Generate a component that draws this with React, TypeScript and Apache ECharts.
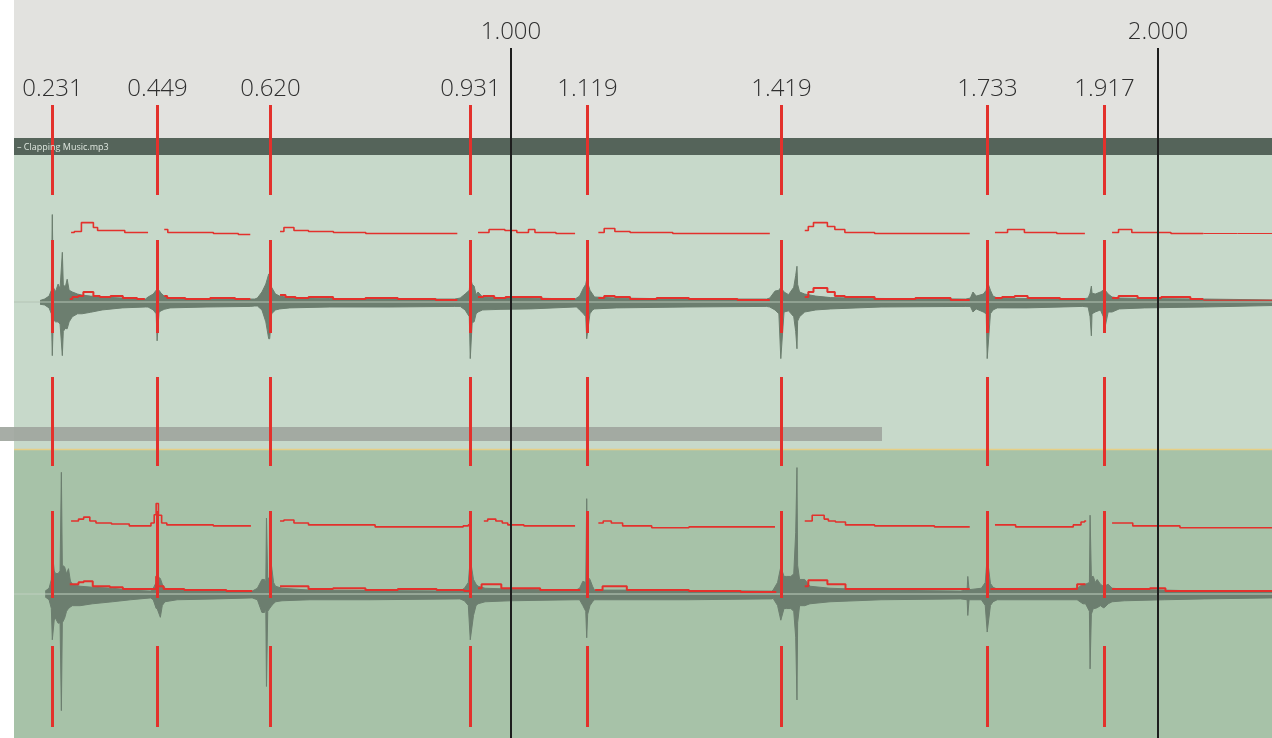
import { useEffect, useRef } from "react";
import * as echarts from "echarts";

// ---------- data ----------
const timeMin = 0.2318;
const timeMax = 2.1762;

const onsetTimes = [0.291, 0.453, 0.627, 0.937, 1.117, 1.417, 1.736, 1.917];
const onsetLabels = ["0.231", "0.449", "0.620", "0.931", "1.119", "1.419", "1.733", "1.917"];
const secondTicks = [1, 2];
const trackTitle = "– Clapping Music.mp3";

// waveform bursts per onset: [offset from onset (s), positive peak %, negative peak %]
const track1Bursts: number[][][] = [
  [[-0.019, 1, -1.5], [-0.012, 2, -2], [-0.005, 4, -4], [-0.0015, 8, -8], [0, 59.5, -36.5], [0.0015, 10, -12], [0.005, 7, -13.5], [0.009, 12.2, -13.5], [0.012, 9, -15], [0.0155, 33.8, -36.5], [0.017, 12, -20], [0.02, 10, -18], [0.023, 15.5, -18.2], [0.026, 8, -13.5], [0.031, 6.8, -10], [0.039, 5.4, -8], [0.046, 4.7, -8], [0.059, 4, -7], [0.077, 3.4, -5.4], [0.108, 2.7, -4], [0.144, 2, -3.4]],
  [[-0.014, 3.4, -3.4], [-0.006, 5.4, -5.4], [-0.0015, 8, -8], [0, 8.8, -26.4], [0.003, 8, -7], [0.006, 6, -6], [0.011, 4, -5], [0.02, 2.7, -4], [0.077, 2, -3.4], [0.144, 2, -3]],
  [[-0.023, 2, -2.7], [-0.019, 2.7, -2.7], [-0.012, 6.8, -5.4], [-0.006, 12.2, -13.5], [-0.0015, 19, -25], [0, 19, -25], [0.003, 10, -8], [0.009, 5.4, -5.4], [0.0155, 4, -4.7], [0.031, 3, -4], [0.093, 2.4, -3.4], [0.186, 2, -3.4], [0.286, 2, -3]],
  [[-0.0155, 2.7, -3], [-0.008, 5.4, -5.4], [-0.0015, 8, -10], [0, 16.9, -38.5], [0.003, 12, -14], [0.006, 10.8, -13.5], [0.009, 5, -8], [0.012, 6.8, -6.8], [0.019, 3.4, -5.4], [0.046, 3, -5], [0.093, 2.7, -4.7], [0.162, 2, -3.4]],
  [[-0.0155, 2.7, -3.4], [-0.011, 4, -5.4], [-0.005, 9.5, -8], [-0.0015, 12, -10], [0, 15.5, -25], [0.005, 8, -8], [0.009, 5.4, -5.4], [0.012, 3.4, -4.7], [0.046, 2.7, -4], [0.155, 2, -3.4], [0.278, 2, -3]],
  [[-0.017, 2.7, -3.4], [-0.009, 7.4, -5.4], [-0.003, 8, -8], [0, 10, -38.5], [0.005, 6.8, -6.8], [0.012, 5, -6], [0.02, 10, -10], [0.023, 18, -20], [0.025, 24.3, -31.8], [0.026, 12, -13], [0.029, 6.8, -10], [0.037, 5.4, -6.8], [0.054, 4, -5.4], [0.077, 3, -4.7], [0.155, 2.4, -3.4], [0.286, 2, -3]],
  [[-0.026, 2.7, -3], [-0.022, 6.8, -6.8], [-0.017, 4, -4.7], [-0.006, 5.4, -6.8], [-0.0015, 8, -8], [0, 14.2, -38.5], [0.005, 8, -8], [0.009, 4, -5.4], [0.0155, 2.7, -4], [0.062, 2.4, -4], [0.147, 2, -3]],
  [[-0.025, 2.7, -3.4], [-0.022, 6, -10], [-0.02, 10.8, -23], [-0.019, 6, -8], [-0.014, 5.4, -6.8], [-0.006, 6.8, -5.4], [-0.0015, 8, -10], [0, 8.8, -19.6], [0.006, 5.4, -6.8], [0.012, 3.4, -6.8], [0.023, 2.7, -4.7], [0.062, 2.4, -4], [0.155, 2, -3.4], [0.26, 1.4, -2.4]],
];

const track2Bursts: number[][][] = [
  [[-0.011, 2, -2], [-0.005, 4, -4], [-0.0015, 10, -10], [0, 29, -31.8], [0.003, 16, -18], [0.005, 14.2, -16.9], [0.009, 14.2, -20.3], [0.012, 16, -20], [0.014, 84.5, -81], [0.0155, 20, -20], [0.019, 18.9, -16.9], [0.022, 14, -12], [0.025, 17.6, -10.1], [0.028, 9, -9], [0.031, 6.8, -8.1], [0.043, 5.4, -8.1], [0.062, 4.7, -6.8], [0.093, 4, -5.4], [0.121, 2.7, -4], [0.152, 2, -2.7]],
  [[-0.006, 4, -4], [-0.0015, 8, -10], [0, 12.2, -10.1], [0.005, 10.8, -16.2], [0.008, 6.8, -8], [0.012, 4, -5.4], [0.031, 2.7, -4], [0.093, 2, -3.4], [0.147, 2, -2.7]],
  [[-0.019, 4, -4], [-0.012, 10.1, -12.8], [-0.008, 10.1, -12.8], [-0.006, 8, -10], [-0.005, 52.7, -64.2], [-0.003, 10, -12], [0, 12, -10], [0.003, 18.9, -8.1], [0.006, 8, -6.8], [0.009, 5.4, -5.4], [0.019, 4, -4.7], [0.062, 2.7, -4], [0.155, 2.4, -4], [0.294, 2, -3.4]],
  [[-0.009, 4, -4.7], [-0.003, 8, -8], [0, 24.3, -31.8], [0.005, 10.1, -14.9], [0.009, 6.8, -8], [0.012, 5.4, -6.8], [0.023, 4, -5.4], [0.062, 3.4, -4.7], [0.162, 2.4, -4]],
  [[-0.011, 4, -4], [-0.006, 8.8, -8], [-0.0015, 8, -12], [0, 66.2, -30.4], [0.0015, 12, -14], [0.005, 10.1, -8.1], [0.009, 5.4, -5.4], [0.012, 2.7, -4], [0.062, 2.7, -4], [0.155, 2.4, -4], [0.286, 2, -3.4]],
  [[-0.012, 2.7, -3], [-0.005, 8, -8], [0, 18.9, -18.2], [0.005, 12.2, -10.1], [0.009, 12.2, -10.1], [0.0155, 12.2, -10.1], [0.02, 14, -12], [0.023, 42.6, -30], [0.025, 87.8, -73.6], [0.026, 20, -20], [0.029, 10.1, -8.1], [0.037, 10.1, -8.1], [0.045, 5.4, -6.8], [0.076, 4, -5.4], [0.155, 2.7, -4], [0.278, 2, -3.4], [0.288, 3, -4], [0.289, 12.2, -14.9], [0.291, 3, -4]],
  [[-0.009, 4, -4], [-0.003, 8, -8], [0, 25.7, -26.4], [0.005, 7.4, -8], [0.009, 4.7, -5.4], [0.0155, 3.4, -4], [0.062, 2.7, -4], [0.139, 4, -4], [0.148, 6.8, -6.8]],
  [[-0.029, 6.8, -6.8], [-0.023, 8, -12], [-0.022, 54.7, -52], [-0.02, 12, -14], [-0.017, 12.2, -10.1], [-0.014, 8, -10], [-0.011, 10.1, -9.5], [-0.006, 6.8, -8.1], [-0.0015, 5.4, -9.5], [0, 5.4, -9.5], [0.006, 6.8, -6.8], [0.012, 4, -5.4], [0.031, 3.4, -4.7], [0.093, 2.7, -4], [0.155, 2, -3.4], [0.26, 2, -2.7]],
];

// red analysis curves, segments of [time (s), value %]
const track1Lower: number[][][] = [
  [[0.318, 2], [0.326, 3.4], [0.336, 4], [0.342, 6.8], [0.352, 6.8], [0.357, 4], [0.372, 3.4], [0.39, 4], [0.41, 2.7], [0.434, 2]],
  [[0.464, 4], [0.473, 2.7], [0.52, 2], [0.55, 2.7], [0.597, 2]],
  [[0.643, 4.7], [0.66, 3.4], [0.674, 2.7], [0.7, 3.4], [0.75, 2], [0.8, 2.7], [0.85, 2], [0.917, 1.4]],
  [[0.949, 3.4], [0.965, 4], [0.983, 2.7], [1.0, 3.4], [1.034, 3.4], [1.06, 2], [1.099, 2]],
  [[1.135, 2.7], [1.153, 4], [1.168, 3.4], [1.2, 2], [1.25, 2.7], [1.3, 2], [1.4, 1.4]],
  [[1.454, 3.4], [1.465, 6.8], [1.47, 9.5], [1.485, 9.5], [1.493, 6.8], [1.508, 4], [1.524, 3.4], [1.6, 2], [1.65, 2.7], [1.709, 1.4]],
  [[1.748, 2.7], [1.77, 3.4], [1.787, 4], [1.81, 2.7], [1.887, 2]],
  [[1.929, 2.7], [1.949, 4], [1.957, 4], [1.98, 2.7], [2.03, 3.4], [2.07, 2]],
];
const track1Upper: number[][][] = [
  [[0.32, 47.3], [0.33, 48], [0.342, 54], [0.352, 54], [0.357, 50.7], [0.365, 48.6], [0.396, 48.6], [0.41, 47.3], [0.439, 47.3]],
  [[0.464, 49.3], [0.475, 47.3], [0.52, 47.3], [0.56, 46.6], [0.597, 45.9]],
  [[0.643, 48], [0.655, 50.7], [0.674, 48.6], [0.7, 48], [0.751, 47.3], [0.8, 46.6], [0.917, 46.6]],
  [[0.949, 47.3], [0.983, 49.3], [0.998, 48.6], [1.02, 47.3], [1.034, 49.3], [1.04, 47.3], [1.099, 46.6]],
  [[1.135, 47.3], [1.153, 50], [1.168, 48], [1.2, 47.3], [1.3, 46.6], [1.4, 46.6]],
  [[1.454, 48.6], [1.465, 51.4], [1.47, 54], [1.485, 54], [1.493, 51.4], [1.508, 49.3], [1.524, 47.3], [1.6, 46.6], [1.709, 46.6]],
  [[1.748, 47.3], [1.787, 49.3], [1.8, 47.3], [1.887, 46.6]],
  [[1.929, 47.3], [1.949, 49.3], [1.97, 47.3], [2.07, 46.6]],
];
const track1Trail: number[][][] = [
  [[2.07, 1.2], [2.1762, 1.2]],
  [[2.07, 46.6], [2.1762, 46.6]],
];
const track2Lower: number[][][] = [
  [[0.318, 6.8], [0.326, 6.8], [0.337, 8.1], [0.342, 8.8], [0.35, 8.8], [0.357, 5.4], [0.37, 5.4], [0.39, 4.7], [0.41, 3.4], [0.45, 3.4], [0.453, 12.2], [0.456, 5.4], [0.47, 3.4], [0.52, 2.7], [0.6, 2]],
  [[0.643, 5.4], [0.674, 5.4], [0.7, 3.4], [0.75, 4], [0.8, 2.7], [0.85, 3.4], [0.92, 2.7], [0.935, 2]],
  [[0.949, 4], [0.96, 6.8], [0.98, 6.8], [0.99, 4], [1.03, 4], [1.06, 2.7], [1.107, 2.7]],
  [[1.13, 2.7], [1.153, 5.4], [1.168, 5.4], [1.19, 2.7], [1.25, 2.7], [1.3, 2], [1.41, 1.4]],
  [[1.454, 5.4], [1.465, 9.5], [1.485, 9.5], [1.493, 6.8], [1.51, 6.8], [1.524, 3.4], [1.6, 3.4], [1.709, 3.4]],
  [[1.741, 3.4], [1.8, 3.4], [1.87, 3.4], [1.88, 6.8], [1.888, 6.8]],
  [[1.929, 3.4], [1.972, 3.4], [2.003, 4], [2.02, 2], [2.1762, 2]],
];
const track2Upper: number[][][] = [
  [[0.32, 50.7], [0.326, 50.7], [0.337, 52], [0.342, 53.4], [0.346, 53.4], [0.352, 50.7], [0.365, 49.3], [0.4, 48.6], [0.42, 47.3], [0.44, 47.3], [0.447, 49.3], [0.45, 55], [0.453, 62.8], [0.457, 54.7], [0.463, 49.3], [0.473, 48], [0.52, 48], [0.56, 47.3], [0.598, 47.3]],
  [[0.643, 50.7], [0.655, 51.4], [0.674, 49.3], [0.7, 48], [0.75, 48], [0.83, 46.6], [0.92, 46.6], [0.932, 47.3], [0.936, 48]],
  [[0.958, 50.7], [0.97, 52], [0.983, 50.7], [0.99, 49.3], [1.0, 48], [1.04, 47.3], [1.099, 47.3]],
  [[1.135, 49.3], [1.15, 50.7], [1.16, 49.3], [1.185, 47.3], [1.25, 46], [1.3, 46.6], [1.408, 46.6]],
  [[1.454, 50.7], [1.463, 50.7], [1.468, 54.7], [1.48, 54.7], [1.488, 52], [1.493, 50.7], [1.51, 50], [1.524, 48], [1.6, 47.3], [1.709, 46.6]],
  [[1.748, 48], [1.77, 48], [1.79, 46.6], [1.86, 46.6], [1.878, 48], [1.884, 50], [1.889, 50.7]],
  [[1.929, 49.3], [1.95, 49.3], [1.972, 47.3], [2.003, 47.3], [2.065, 46], [2.1762, 46]],
];

// ---------- layout / style ----------
const W = 1272;
const H = 738;
const LEFT = 14;
const markerBands = [[105, 195], [240, 333], [377, 466], [511, 598], [646, 727]];
const RED = "#e3312c";
const WAVE = "#6c7e6f";
const FONT = '"Open Sans", "Noto Sans", sans-serif';

function envelope(bursts: number[][][]) {
  const up: number[][] = [];
  const down: number[][] = [];
  bursts.forEach((b, i) =>
    b.forEach(([dt, u, d]) => {
      const t = +(onsetTimes[i] + dt).toFixed(4);
      up.push([t, u]);
      down.push([t, d]);
    })
  );
  return { up, down };
}

function redSeries(segs: number[][][], axis: number, width: number) {
  return segs.map((seg) => ({
    type: "line",
    xAxisIndex: axis,
    yAxisIndex: axis,
    data: seg,
    symbol: "none",
    step: "middle",
    lineStyle: { color: RED, width },
    z: 4,
    silent: true,
  }));
}

function waveSeries(bursts: number[][][], axis: number) {
  const env = envelope(bursts);
  return [env.up, env.down].map((d) => ({
    type: "line",
    xAxisIndex: axis,
    yAxisIndex: axis,
    data: d,
    symbol: "none",
    sampling: undefined,
    lineStyle: { color: WAVE, width: 1 },
    areaStyle: { color: WAVE, opacity: 1 },
    z: 2,
    silent: true,
  }));
}

function baseline(axis: number, color: string) {
  return {
    type: "line",
    xAxisIndex: axis,
    yAxisIndex: axis,
    data: [[timeMin, 0], [timeMax, 0]],
    symbol: "none",
    lineStyle: { color, width: 1 },
    z: 3,
    silent: true,
  };
}

export default function App() {
  const ref = useRef<HTMLDivElement>(null);
  useEffect(() => {
    if (!ref.current) return;
    const chart = echarts.init(ref.current, undefined, { renderer: "svg" });
    const grids = [
      { left: LEFT, right: 0, top: 0, height: 138, show: true, backgroundColor: "#e2e2df", borderWidth: 0 },
      { left: LEFT, right: 0, top: 138, height: 17, show: true, backgroundColor: "#55645a", borderWidth: 0 },
      { left: LEFT, right: 0, top: 155, height: 294, show: true, backgroundColor: "#c7d9ca", borderWidth: 0 },
      { left: LEFT, right: 0, top: 450, height: 296, show: true, backgroundColor: "#a7c2a8", borderWidth: 0 },
      { left: LEFT, right: 0, top: 0, height: H, show: false },
    ];
    const xAxis = grids.map((_, i) => ({ type: "value", gridIndex: i, min: timeMin, max: timeMax, show: false }));
    const yAxis = grids.map((_, i) =>
      i === 2 || i === 3
        ? { type: "value", gridIndex: i, min: -100, max: 100, show: false }
        : { type: "value", gridIndex: i, min: 0, max: 1, show: false }
    );

    const option: any = {
      animation: false,
      grid: grids,
      xAxis,
      yAxis,
      graphic: [
        { type: "rect", shape: { x: 0, y: 427, width: 882, height: 14 }, style: { fill: "#9fa69e", opacity: 0.92 }, z: 1 },
        { type: "line", shape: { x1: LEFT, y1: 449.5, x2: W, y2: 449.5 }, style: { stroke: "#e6cf86", lineWidth: 1.5 }, z: 1 },
        {
          type: "text",
          x: LEFT + 3,
          y: 146.5,
          style: { text: trackTitle, fill: "#dfe7df", fontSize: 9, fontFamily: FONT, verticalAlign: "middle" },
          z: 10,
        },
      ],
      series: [
        ...waveSeries(track1Bursts, 2),
        ...waveSeries(track2Bursts, 3),
        baseline(2, "#b4c4b5"),
        baseline(3, "#bfcfbf"),
        ...redSeries(track1Lower, 2, 2),
        ...redSeries(track1Upper, 2, 1.6),
        ...redSeries(track1Trail, 2, 1),
        ...redSeries(track2Lower, 3, 2),
        ...redSeries(track2Upper, 3, 1.6),
        {
          type: "custom",
          xAxisIndex: 4,
          yAxisIndex: 4,
          data: onsetTimes.map((t, i) => [t, i]),
          z: 5,
          silent: true,
          renderItem: (_p: any, api: any) => {
            const x = Math.round(api.coord([api.value(0), 0])[0]) + 0.5;
            const idx = api.value(1);
            const children: any[] = markerBands.map(([y1, y2]) => ({
              type: "line",
              shape: { x1: x, y1, x2: x, y2 },
              style: { stroke: RED, lineWidth: 3 },
            }));
            children.push({
              type: "text",
              x,
              y: 86,
              style: {
                text: onsetLabels[idx],
                align: "center",
                verticalAlign: "middle",
                fontSize: 24,
                fontWeight: 300,
                fontFamily: FONT,
                fill: "#2f2f2f",
              },
            });
            return { type: "group", children };
          },
        },
        {
          type: "custom",
          xAxisIndex: 4,
          yAxisIndex: 4,
          data: secondTicks.map((t) => [t, 0]),
          z: 6,
          silent: true,
          renderItem: (_p: any, api: any) => {
            const v = api.value(0);
            const x = Math.round(api.coord([v, 0])[0]);
            return {
              type: "group",
              children: [
                { type: "line", shape: { x1: x, y1: 48, x2: x, y2: H }, style: { stroke: "#1d1d1d", lineWidth: 2 } },
                {
                  type: "text",
                  x,
                  y: 29,
                  style: {
                    text: v.toFixed(3),
                    align: "center",
                    verticalAlign: "middle",
                    fontSize: 24,
                    fontWeight: 300,
                    fontFamily: FONT,
                    fill: "#2f2f2f",
                  },
                },
              ],
            };
          },
        },
      ],
    };
    chart.setOption(option);
    return () => chart.dispose();
  }, []);
  return <div ref={ref} style={{ position: "fixed", left: 0, top: 0, width: W, height: H }} />;
}
